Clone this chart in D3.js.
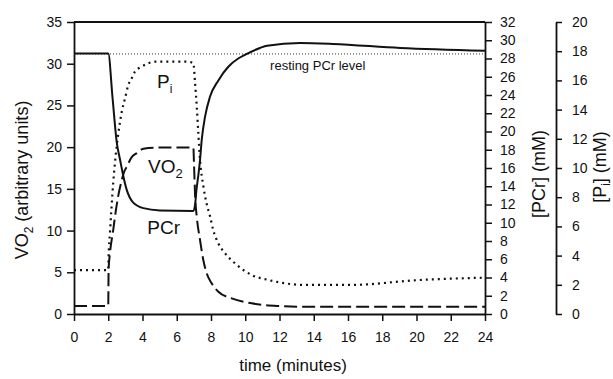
<!DOCTYPE html>
<html>
<head>
<meta charset="utf-8">
<script src="https://cdn.jsdelivr.net/npm/d3@7"></script>
<style>
  body { margin: 0; background: #fff; }
  text { font-family: "Liberation Sans", Arial, sans-serif; fill: #111; }
</style>
</head>
<body>
<div id="chart"></div>
<script>
// tick labels
const timeTicks = [0, 2, 4, 6, 8, 10, 12, 14, 16, 18, 20, 22, 24];
const vo2Ticks = [0, 5, 10, 15, 20, 25, 30, 35];
const pcrTicks = d3.range(0, 33, 2);
const piTicks = d3.range(0, 21, 2);

// PCr (mM)
const pcrTime = [0, 2.0, 2.25, 2.49, 2.69, 2.88, 3.08, 3.46, 4.05, 5.02, 6.97, 7.07, 7.15, 7.26, 7.36, 7.46, 7.65, 7.94, 8.43, 9.01, 9.59, 9.98, 10.86, 11.27, 13.2, 15.12, 19.04, 24];
const pcrValues = [28.55, 28.55, 23.7, 18.9, 16.9, 15.1, 13.6, 12.2, 11.6, 11.35, 11.3, 11.95, 13.6, 15.2, 16.9, 19.1, 21.6, 23.8, 25.6, 27.1, 28.0, 28.4, 29.15, 29.4, 29.7, 29.6, 29.15, 28.85];
const pcrRest = 28.5;

// Pi (mM), dotted line
const piTime = [0, 2.0, 2.02, 2.10, 2.29, 2.49, 2.59, 2.79, 2.98, 3.17, 3.37, 3.56, 3.95, 4.34, 4.73, 6.66, 6.97, 7.07, 7.17, 7.26, 7.36, 7.55, 7.75, 7.94, 8.13, 8.43, 8.82, 9.40, 10.38, 11.35, 12.32, 13.39, 16.12, 20.2, 24];
const piValues = [3.0, 3.0, 3.9, 5.55, 8.97, 11.46, 12.38, 13.86, 14.77, 15.68, 16.14, 16.6, 16.94, 17.17, 17.28, 17.28, 17.17, 15.8, 14.2, 12.38, 10.55, 8.77, 7.53, 6.71, 5.75, 4.84, 4.16, 3.47, 2.67, 2.33, 2.1, 1.99, 1.99, 2.33, 2.49];

// VO2 (arbitrary units), dashed line
const vo2Time = [0, 2.0, 2.02, 2.10, 2.29, 2.39, 2.57, 2.79, 2.92, 3.08, 3.37, 3.66, 4.05, 4.63, 6.97, 7.01, 7.07, 7.17, 7.36, 7.55, 7.75, 8.04, 8.43, 9.21, 10.38, 11.93, 13.39, 24];
const vo2Values = [0.96, 0.96, 5.3, 7.3, 10.06, 11.62, 14.01, 16.05, 17.01, 17.64, 18.8, 19.28, 19.82, 19.94, 19.96, 17.84, 14.25, 11.65, 8.86, 6.47, 4.87, 3.68, 2.67, 1.88, 1.28, 0.96, 0.87, 0.87];

const width = 613;
const height = 379;
const plotLeft = 74, plotRight = 485, plotTop = 22, plotBottom = 314;
const piAxisX = 556;

const svg = d3.select("#chart")
  .append("svg")
    .attr("width", width)
    .attr("height", height);

const x = d3.scaleLinear().domain([0, 24]).range([plotLeft, plotRight]);
const yVO2 = d3.scaleLinear().domain([0, 35]).range([plotBottom, plotTop]);
const yPCr = d3.scaleLinear().domain([0, 32]).range([plotBottom, plotTop]);
const yPi = d3.scaleLinear().domain([0, 20]).range([plotBottom, plotTop]);

function styleAxis(g) {
  g.selectAll("path").attr("stroke", "#111").attr("stroke-width", 1.8);
  g.selectAll("line").attr("stroke", "#111").attr("stroke-width", 1.5);
  g.selectAll("text")
    .attr("font-family", "'Liberation Sans', Arial, sans-serif")
    .attr("font-size", "14px")
    .attr("fill", "#111");
}

// top frame line
svg.append("line")
  .attr("x1", plotLeft).attr("x2", plotRight)
  .attr("y1", plotTop).attr("y2", plotTop)
  .attr("stroke", "#111").attr("stroke-width", 1.8);

svg.append("g")
  .attr("transform", "translate(" + plotLeft + ",0)")
  .call(d3.axisLeft(yVO2).tickValues(vo2Ticks).tickSize(7).tickSizeOuter(0).tickPadding(5))
  .call(styleAxis);

svg.append("g")
  .attr("transform", "translate(0," + plotBottom + ")")
  .call(d3.axisBottom(x).tickValues(timeTicks).tickSize(7).tickSizeOuter(0).tickPadding(11))
  .call(styleAxis);

svg.append("g")
  .attr("transform", "translate(" + plotRight + ",0)")
  .call(d3.axisRight(yPCr).tickValues(pcrTicks).tickSize(7).tickSizeOuter(0).tickPadding(8))
  .call(styleAxis);

svg.append("g")
  .attr("transform", "translate(" + piAxisX + ",0)")
  .call(d3.axisRight(yPi).tickValues(piTicks).tickSize(6).tickSizeOuter(0).tickPadding(10))
  .call(styleAxis);

// resting PCr level
svg.append("line")
  .attr("x1", x(0)).attr("x2", x(24))
  .attr("y1", yPCr(pcrRest)).attr("y2", yPCr(pcrRest))
  .attr("stroke", "#333").attr("stroke-width", 1)
  .attr("stroke-dasharray", "1,2");

const pcrLine = d3.line()
  .x((d, i) => x(pcrTime[i]))
  .y(d => yPCr(d))
  .curve(d3.curveMonotoneX);

const piLine = d3.line()
  .x((d, i) => x(piTime[i]))
  .y(d => yPi(d))
  .curve(d3.curveMonotoneX);

const vo2Line = d3.line()
  .x((d, i) => x(vo2Time[i]))
  .y(d => yVO2(d))
  .curve(d3.curveMonotoneX);

svg.append("path")
  .attr("d", piLine(piValues))
  .attr("fill", "none")
  .attr("stroke", "#111")
  .attr("stroke-width", 2.2)
  .attr("stroke-dasharray", "2,4");

svg.append("path")
  .attr("d", vo2Line(vo2Values))
  .attr("fill", "none")
  .attr("stroke", "#111")
  .attr("stroke-width", 2)
  .attr("stroke-dasharray", "13,5");

svg.append("path")
  .attr("d", pcrLine(pcrValues))
  .attr("fill", "none")
  .attr("stroke", "#111")
  .attr("stroke-width", 2);

// curve labels
const pi = svg.append("text")
  .attr("x", x(4.85)).attr("y", yVO2(27.1))
  .attr("font-size", "19px")
  .text("P");
pi.append("tspan").attr("dy", 5).attr("font-size", "12px").text("i");

const vo = svg.append("text")
  .attr("x", x(4.32)).attr("y", yVO2(16.9))
  .attr("font-size", "19px")
  .text("VO");
vo.append("tspan").attr("dy", 5).attr("font-size", "13px").text("2");

svg.append("text")
  .attr("x", x(4.28)).attr("y", yVO2(9.6))
  .attr("font-size", "19px")
  .text("PCr");

svg.append("text")
  .attr("x", x(11.45)).attr("y", yVO2(29.3))
  .attr("font-size", "13px")
  .text("resting PCr level");

// axis titles
svg.append("text")
  .attr("x", 293).attr("y", 371)
  .attr("text-anchor", "middle")
  .attr("font-size", "17px")
  .text("time (minutes)");

const yTitle = svg.append("text")
  .attr("transform", "translate(28,180) rotate(-90)")
  .attr("text-anchor", "middle")
  .attr("font-size", "18px")
  .text("VO");
yTitle.append("tspan").attr("dy", 5).attr("font-size", "12px").text("2");
yTitle.append("tspan").attr("dy", -5).text(" (arbitrary units)");

svg.append("text")
  .attr("transform", "translate(545,174) rotate(-90)")
  .attr("text-anchor", "middle")
  .attr("font-size", "18px")
  .text("[PCr] (mM)");

const piTitle = svg.append("text")
  .attr("transform", "translate(606,167) rotate(-90)")
  .attr("text-anchor", "middle")
  .attr("font-size", "18px")
  .text("[P");
piTitle.append("tspan").attr("dy", 4).attr("font-size", "12px").text("i");
piTitle.append("tspan").attr("dy", -4).text("] (mM)");
</script>
</body>
</html>
